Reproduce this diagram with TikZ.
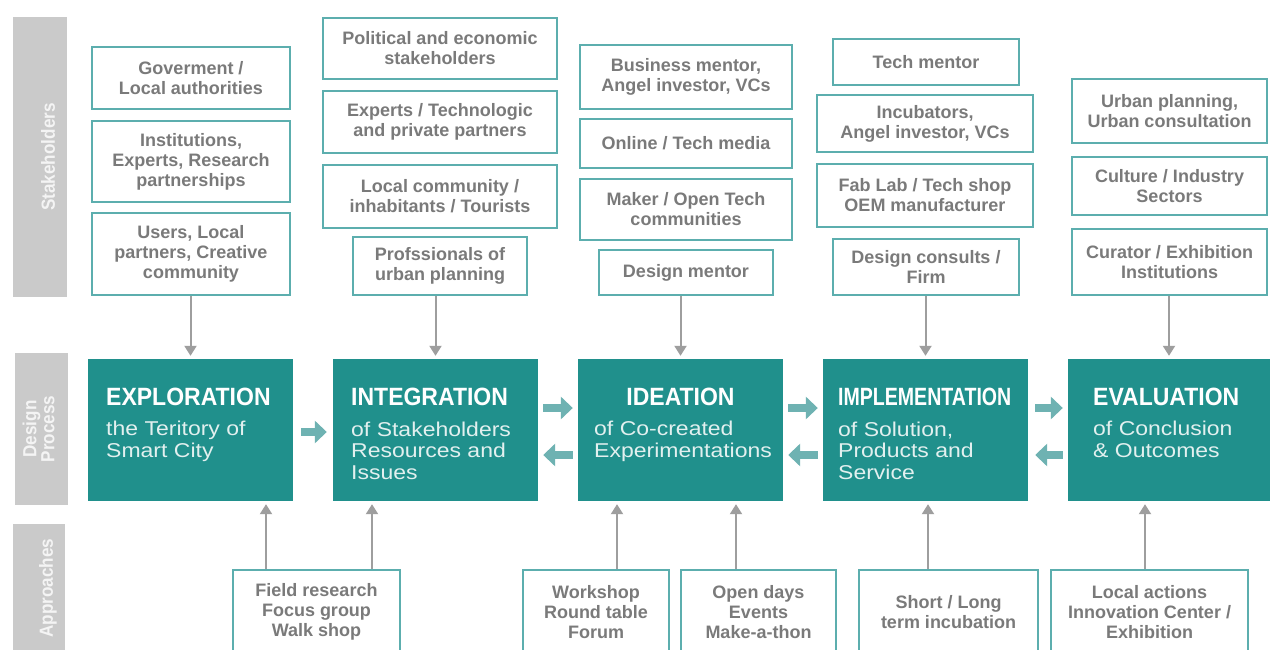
\documentclass[tikz,border=0pt]{standalone}
\usepackage{fontspec}
\usepackage{graphicx}
\setmainfont{Liberation Sans}
\newfontfamily\headfont[FakeStretch=0.92]{Liberation Sans}
\newfontfamily\subfont[FakeStretch=1.15]{Liberation Sans}
\newfontfamily\sidefont[FakeStretch=0.9]{Liberation Sans}
\usetikzlibrary{arrows.meta}
\definecolor{teal1}{RGB}{32,144,140}
\definecolor{tealborder}{RGB}{92,174,174}
\definecolor{tealarrow}{RGB}{110,178,178}
\definecolor{txtgray}{RGB}{122,122,122}
\definecolor{sidegray}{RGB}{202,202,202}
\definecolor{sidetxt}{RGB}{244,244,244}
\definecolor{arrgray}{RGB}{158,158,158}
\definecolor{subtxt}{RGB}{226,240,239}
\tikzset{
  sbox/.style={draw=tealborder, line width=2.5pt, fill=white, align=center,
    font=\fontsize{18}{20}\selectfont\bfseries, text=txtgray, inner sep=0pt},
  proc/.style={fill=teal1, minimum height=142pt, inner sep=0pt},
  head/.style={anchor=base west, text=white, inner sep=0pt,
    font=\headfont\fontsize{25}{28}\selectfont\bfseries},
  sub/.style={anchor=base west, text=subtxt, inner sep=0pt,
    font=\subfont\fontsize{20}{22}\selectfont},
  side/.style={fill=sidegray, inner sep=0pt},
  sidetext/.style={text=sidetxt, rotate=90, inner sep=0pt, align=center,
    font=\sidefont\fontsize{19}{18}\selectfont\bfseries},
  garrow/.style={draw=arrgray, line width=2pt, -{Triangle[width=12pt,length=10pt]}, shorten >=3pt},
  tarrow/.style={draw=tealarrow, line width=8pt, -{Triangle[width=22pt,length=12pt]}}
}
\begin{document}
\begin{tikzpicture}[x=1pt,y=-1pt]
\useasboundingbox (0,0) rectangle (1270,650);
\fill[white] (0,0) rectangle (1270,650);
\clip (0,0) rectangle (1270,650);

% side bars
\node[side, minimum width=54, minimum height=280] (sb1) at (40,157) {};
\node[sidetext] (sb1t) at (48,157) {Stakeholders};
\node[side, minimum width=53, minimum height=152] (sb2) at (41.5,429) {};
\node[sidetext] (sb2t) at (38.5,429) {Design\\Process};
\node[side, minimum width=52, minimum height=136] (sb3) at (39,592) {};
\node[sidetext] (sb3t) at (48,588) {Approaches};

% process boxes
\node[proc, minimum width=205] (exp) at (190.5,430) {};
\node[proc, minimum width=205] (int) at (435.5,430) {};
\node[proc, minimum width=205] (ide) at (680.5,430) {};
\node[proc, minimum width=205] (imp) at (925.5,430) {};
\node[proc, minimum width=202] (eva) at (1169,430) {};

\node[head] (exph) at (106,405) {EXPLORATION};
\node[sub] (exps1) at (106,435) {the Teritory of};
\node[sub] (exps2) at (106,457) {Smart City};

\node[head] (inth) at (351,405) {INTEGRATION};
\node[sub] (ints1) at (351,436) {of Stakeholders};
\node[sub] (ints2) at (351,457) {Resources and};
\node[sub] (ints3) at (351,479) {Issues};

\node[head, anchor=base] (ideh) at (680.5,405) {IDEATION};
\node[sub] (ides1) at (594,435) {of Co-created};
\node[sub] (ides2) at (594,457) {Experimentations};

\node[head] (imph) at (838,405) {\scalebox{0.85}[1]{IMPLEMENTATION}};
\node[sub] (imps1) at (838,436) {of Solution,};
\node[sub] (imps2) at (838,457) {Products and};
\node[sub] (imps3) at (838,479) {Service};

\node[head] (evah) at (1093,405) {EVALUATION};
\node[sub] (evas1) at (1093,435) {of Conclusion};
\node[sub] (evas2) at (1093,457) {\& Outcomes};

% stakeholder boxes
\node[sbox, minimum width=198, minimum height=62] (a1) at (191,78) {Goverment /\\Local authorities};
\node[sbox, minimum width=198, minimum height=81] (a2) at (191,161.5) {Institutions,\\Experts, Research\\partnerships};
\node[sbox, minimum width=198, minimum height=82] (a3) at (191,254) {Users, Local\\partners, Creative\\community};

\node[sbox, minimum width=234, minimum height=61] (b1) at (440,48.5) {Political and economic\\stakeholders};
\node[sbox, minimum width=234, minimum height=62] (b2) at (440,122) {Experts / Technologic\\and private partners};
\node[sbox, minimum width=234, minimum height=63] (b3) at (440,196.5) {Local community /\\inhabitants / Tourists};
\node[sbox, minimum width=174, minimum height=58] (b4) at (440,266) {Profssionals of\\urban planning};

\node[sbox, minimum width=212, minimum height=64] (c1) at (686,77) {Business mentor,\\Angel investor, VCs};
\node[sbox, minimum width=212, minimum height=49] (c2) at (686,143.5) {Online / Tech media};
\node[sbox, minimum width=212, minimum height=61] (c3) at (686,209.5) {Maker / Open Tech\\communities};
\node[sbox, minimum width=174, minimum height=45] (c4) at (686,272.5) {Design mentor};

\node[sbox, minimum width=186, minimum height=46] (d1) at (926,62) {Tech mentor};
\node[sbox, minimum width=216, minimum height=57] (d2) at (925,123.5) {Incubators,\\Angel investor, VCs};
\node[sbox, minimum width=216, minimum height=63] (d3) at (925,195.5) {Fab Lab / Tech shop\\OEM manufacturer};
\node[sbox, minimum width=186, minimum height=56] (d4) at (926,267) {Design consults /\\Firm};

\node[sbox, minimum width=195, minimum height=64] (e1) at (1169.5,111) {Urban planning,\\Urban consultation};
\node[sbox, minimum width=195, minimum height=58] (e2) at (1169.5,186) {Culture / Industry\\Sectors};
\node[sbox, minimum width=195, minimum height=66] (e3) at (1169.5,262) {Curator / Exhibition\\Institutions};

% approach boxes
\node[sbox, minimum width=167, minimum height=84] (f1) at (316.5,612) {Field research\\Focus group\\Walk shop};
\node[sbox, minimum width=146, minimum height=84] (f2) at (596,612) {Workshop\\Round table\\Forum};
\node[sbox, minimum width=155, minimum height=84] (f3) at (758.5,612) {Open days\\Events\\Make-a-thon};
\node[sbox, minimum width=179, minimum height=84] (f4) at (948.5,612) {Short / Long\\term incubation};
\node[sbox, minimum width=197, minimum height=84] (f5) at (1149.5,612) {Local actions\\Innovation Center /\\Exhibition};

% stakeholder -> process
\draw[garrow] (a3.south -| exp.north) -- (exp.north);
\draw[garrow] (b4.south -| int.north) -- (int.north);
\draw[garrow] (c4.south -| ide.north) -- (ide.north);
\draw[garrow] (d4.south -| imp.north) -- (imp.north);
\draw[garrow] (e3.south -| eva.north) -- (eva.north);

% approaches -> process
\draw[garrow] ([xshift=-50.5pt]f1.north) -- ([xshift=-50.5pt]f1.north |- exp.south);
\draw[garrow] ([xshift=55.5pt]f1.north) -- ([xshift=55.5pt]f1.north |- int.south);
\draw[garrow] ([xshift=21pt]f2.north) -- ([xshift=21pt]f2.north |- ide.south);
\draw[garrow] ([xshift=-22.5pt]f3.north) -- ([xshift=-22.5pt]f3.north |- ide.south);
\draw[garrow] ([xshift=-20.5pt]f4.north) -- ([xshift=-20.5pt]f4.north |- imp.south);
\draw[garrow] ([xshift=-4.5pt]f5.north) -- ([xshift=-4.5pt]f5.north |- eva.south);

% process flow arrows
\draw[tarrow] ([xshift=8pt,yshift=-2pt]exp.east) -- ([xshift=-6pt,yshift=-2pt]int.west);
\draw[tarrow] ([xshift=5pt,yshift=22pt]int.east) -- ([xshift=-5pt,yshift=22pt]ide.west);
\draw[tarrow] ([xshift=-5pt,yshift=-25pt]ide.west) -- ([xshift=5pt,yshift=-25pt]int.east);
\draw[tarrow] ([xshift=5pt,yshift=22pt]ide.east) -- ([xshift=-5pt,yshift=22pt]imp.west);
\draw[tarrow] ([xshift=-5pt,yshift=-25pt]imp.west) -- ([xshift=5pt,yshift=-25pt]ide.east);
\draw[tarrow] ([xshift=7pt,yshift=22pt]imp.east) -- ([xshift=-5pt,yshift=22pt]eva.west);
\draw[tarrow] ([xshift=-5pt,yshift=-25pt]eva.west) -- ([xshift=7pt,yshift=-25pt]imp.east);
\end{tikzpicture}
\end{document}
